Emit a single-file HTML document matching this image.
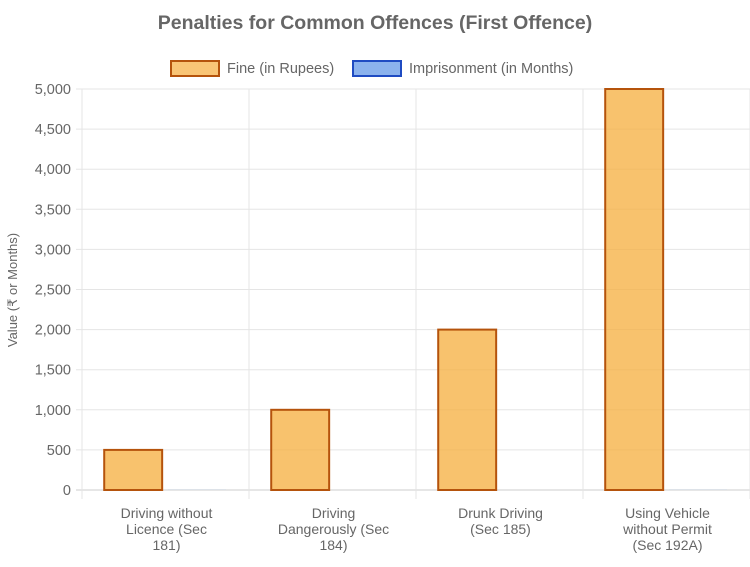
<!DOCTYPE html>
<html><head><meta charset="utf-8"><style>
body{margin:0;background:#fff;font-family:"Liberation Sans",sans-serif}
svg text{font-family:"Liberation Sans",sans-serif}
</style></head><body>
<svg id="c" width="750" height="562">
<text x="375" y="29" text-anchor="middle" font-size="19.5" font-weight="bold" fill="#666">Penalties for Common Offences (First Offence)</text>
<g>
<rect x="171" y="61" width="48" height="15" fill="rgba(246,173,60,0.7)" stroke="#b5530c" stroke-width="2"/>
<text x="227" y="73" font-size="14.5" fill="#666">Fine (in Rupees)</text>
<rect x="353" y="61" width="48" height="15" fill="rgba(90,146,230,0.7)" stroke="#1f4bc2" stroke-width="2"/>
<text x="409" y="73" font-size="14.5" fill="#666">Imprisonment (in Months)</text>
</g>
<text transform="translate(17,290) rotate(-90)" text-anchor="middle" font-size="13" fill="#666">Value (₹ or Months)</text>
<g id="grid"></g><g id="bars"></g><g id="labels"></g>
</svg>
<script>
const categories=[["Driving without","Licence (Sec","181)"],["Driving","Dangerously (Sec","184)"],["Drunk Driving","(Sec 185)"],["Using Vehicle","without Permit","(Sec 192A)"]];
const fines=[500,1000,2000,5000];
const months=[3,0,0,3];
const yTicks=[0,500,1000,1500,2000,2500,3000,3500,4000,4500,5000];
const L=82,R=750,T=89,B=490,yMax=5000;
const ns="http://www.w3.org/2000/svg";
const y=v=>B-(v/yMax)*(B-T);
const cw=(R-L)/categories.length;
function mk(t,a,p){const e=document.createElementNS(ns,t);for(const k in a)e.setAttribute(k,a[k]);p.appendChild(e);return e;}
const g=document.getElementById('grid'),bg=document.getElementById('bars'),lg=document.getElementById('labels');
yTicks.forEach(v=>{
 const l=mk('line',{x1:L-6,x2:R,y1:y(v),y2:y(v),stroke:v===0?'#ccc':'#e5e5e5','stroke-width':1},g);
 
 
 const t=mk('text',{x:L-11,y:y(v)+5,'text-anchor':'end','font-size':14.5,fill:'#666'},lg);
 t.textContent=v.toLocaleString('en-US');
 
 
});
for(let i=0;i<=categories.length;i++){
 const x=L+cw*i;
 const l=mk('line',{x1:x,x2:x,y1:T,y2:B+9,stroke:'#e5e5e5','stroke-width':1},g);
 
 
}
categories.forEach((c,i)=>{
 const x0=L+cw*i;
 const b=mk('rect',{x:x0+cw*0.133,y:y(fines[i]),width:cw*0.347,height:B-y(fines[i]),fill:'rgba(246,173,60,0.75)',stroke:'#b5530c','stroke-width':2},bg);
 
 
 const h=B-y(months[i]);
 const b2=mk('rect',{x:x0+cw*0.515,y:y(months[i]),width:cw*0.347,height:Math.max(h,0),fill:months[i]?'rgba(90,146,230,0.3)':'none',stroke:'none'},bg);
 
 
 c.forEach((s,j)=>{
  const t=mk('text',{x:x0+cw/2+1,y:518+j*16,'text-anchor':'middle','font-size':14,fill:'#666'},lg);
  t.textContent=s;
  
  
 });
});
</script>
</body></html>
